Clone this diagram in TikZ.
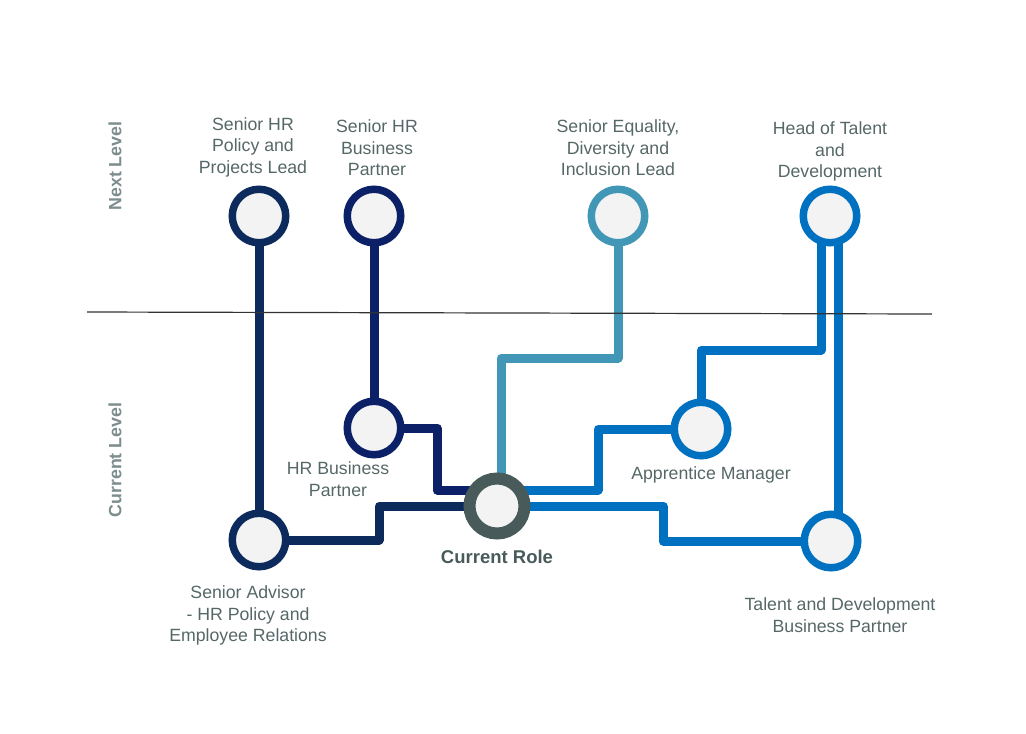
\documentclass[tikz,border=0pt]{standalone}
\usepackage{fontspec}
\setmainfont{Liberation Sans}
\usetikzlibrary{positioning,calc,backgrounds}

\definecolor{navyA}{HTML}{0C2A5C}
\definecolor{navyB}{HTML}{0B2066}
\definecolor{tealC}{HTML}{4397B6}
\definecolor{blueD}{HTML}{0070C0}
\definecolor{ringgrey}{HTML}{485A5A}
\definecolor{fillgrey}{HTML}{F3F3F3}
\definecolor{txtgrey}{HTML}{566767}
\definecolor{lvlgrey}{HTML}{7D8D8D}

\begin{document}
\begin{tikzpicture}[x=1pt,y=-1pt,
  station/.style={circle,draw,line width=7.5pt,fill=fillgrey,minimum size=53.5pt,inner sep=0pt},
  current/.style={circle,draw=ringgrey,line width=12pt,fill=fillgrey,minimum size=55pt,inner sep=0pt},
  roleline/.style={line width=9pt,line join=round},
  lbl/.style={text=txtgrey,align=center,font=\fontsize{17.7}{21.5}\selectfont,inner sep=0pt,anchor=north},
  lvl/.style={text=lvlgrey,font=\fontsize{17.8}{20}\selectfont\bfseries,inner sep=0pt,rotate=90}]
  \useasboundingbox (0,0) rectangle (1026,734);

  % next level roles
  \node[station,draw=navyA] (spol) at (259,216) {};
  \node[station,draw=navyB] (shbp) at (374,216) {};
  \node[station,draw=tealC] (sedi) at (618,216) {};
  \node[station,draw=blueD] (htd) at (830,216) {};
  % current level roles
  \node[station,draw=navyB] (hrbp) at (374,428) {};
  \node[station,draw=blueD] (appm) at (701,429) {};
  \node[station,draw=navyA] (sadv) at (259,540) {};
  \node[station,draw=blueD] (tdbp) at (831,541) {};
  \node[current] (cur) at (497,506) {};

  % routes, behind the circles
  \begin{scope}[on background layer]
    \draw[roleline,navyA] (spol.center) -- (sadv.center);
    \draw[roleline,navyA] (sadv.center) -| (379,506) -- (cur.center);
    \draw[roleline,navyB] (shbp.center) -- (hrbp.center);
    \draw[roleline,navyB] (hrbp.center) -| (437,490) -- ($(cur.center)+(0,-16)$);
    \draw[roleline,tealC] (sedi.center) |- (501,358) -- ($(cur.center)+(4,0)$);
    \draw[roleline,blueD] ($(htd.center)+(-9,0)$) |- (701,350) -- (appm.center);
    \draw[roleline,blueD] ($(htd.center)+(8,0)$) -- ($(tdbp.center)+(7,0)$);
    \draw[roleline,blueD] (appm.center) -| (598,490) -- ($(cur.center)+(0,-16)$);
    \draw[roleline,blueD] (cur.center) -| ($(tdbp.center)+(-168,0)$) -- (tdbp.center);
  \end{scope}

  % level divider
  \coordinate (divl) at (87,312);
  \coordinate (divr) at (932,314);
  \draw[line width=1.2pt,black!80] (divl) -- (divr);

  \node[lvl] (nextlvl) at (115,166) {Next Level};
  \node[lvl] (curlvl) at (115,460) {Current Level};

  % labels
  \node[lbl] (spoltxt) at (253,117) {Senior HR\\Policy and\\Projects Lead};
  \node[lbl] (shbptxt) at (377,119.5) {Senior HR\\Business\\Partner};
  \node[lbl] (seditxt) at (618,119.5) {Senior Equality,\\Diversity and\\Inclusion Lead};
  \node[lbl] (htdtxt) at (830,121.5) {Head of Talent\\and\\Development};
  \node[lbl] (hrbptxt) at (338,461.5) {HR Business\\Partner};
  \node[lbl] (appmtxt) at (711,466.5) {Apprentice Manager};
  \node[lbl,font=\fontsize{18.5}{22}\selectfont\bfseries,text=ringgrey] (curtxt) at (497,550) {Current Role};
  \node[lbl] (sadvtxt) at (248,585.5) {Senior Advisor\\- HR Policy and\\Employee Relations};
  \node[lbl] (tdbptxt) at (840,597.5) {Talent and Development\\Business Partner};
\end{tikzpicture}
\end{document}
